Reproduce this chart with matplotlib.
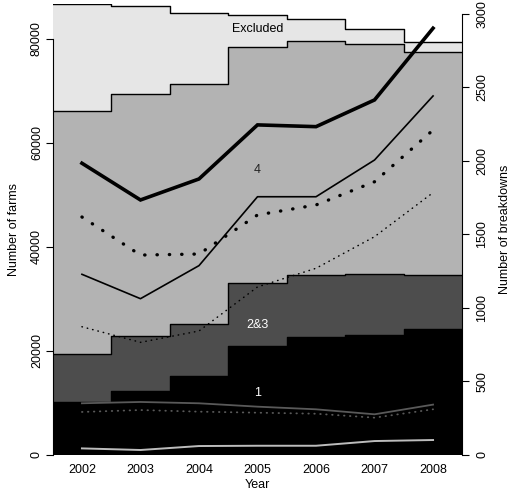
import numpy as np
import matplotlib
matplotlib.use("Agg")
import matplotlib.pyplot as plt

plt.rcParams["font.family"] = ["Liberation Sans", "DejaVu Sans"]

# ── Data ───────────────────────────────────────────────────────────────────────
years = [2002, 2003, 2004, 2005, 2006, 2007, 2008]

# cumulative number of farms (upper edge of each band)
farms_1     = [10190, 12310, 15080, 20900, 22690, 23020, 24110]
farms_23    = [19300, 22830, 25130, 32960, 34560, 34690, 34500]
farms_4     = [66150, 69370, 71230, 78460, 79615, 79040, 77500]
farms_total = [86615, 86288, 85000, 84500, 83730, 81800, 79300]

# number of breakdowns (right axis)
bd_thick     = [1984, 1734, 1877, 2245, 2233, 2415, 2903]
bd_thin      = [1228, 1062, 1287, 1756, 1756, 2006, 2442]
bd_bigdots   = [1618, 1359, 1366, 1632, 1700, 1858, 2210]
bd_smalldots = [871, 765, 842, 1142, 1269, 1484, 1784]
bd_gray      = [350, 359, 350, 327, 309, 275, 341]
bd_graydots  = [291, 304, 293, 286, 279, 252, 309]
bd_light     = [43, 32, 59, 61, 61, 93, 100]

band_labels = ["Excluded", "4", "2&3", "1"]
label_y     = [81870, 54750, 24940, 11870]

# ── Figure ─────────────────────────────────────────────────────────────────────
fig = plt.figure(figsize=(5.15, 4.92), dpi=100)
ax = fig.add_axes([0.1023, 0.0758, 0.7954, 0.9155])

edges = np.r_[np.array(years) - 0.5, years[-1] + 0.5]


def steps(vals):
    return np.r_[vals, vals[-1]]


bands = [(np.zeros(len(years)), farms_1, "black"),
         (farms_1, farms_23, "#4d4d4d"),
         (farms_23, farms_4, "#b3b3b3"),
         (farms_4, farms_total, "#e6e6e6")]
for lo, hi, col in bands:
    ax.fill_between(edges, steps(lo), steps(hi), step="post", color=col,
                    linewidth=0)
for vals in (farms_1, farms_23, farms_4, farms_total):
    ax.step(edges, steps(vals), where="post", color="black", lw=1.0)

ax.set_xlim(2001.5, 2008.5)
ax.set_ylim(0, 86615)

for txt, yv, col in zip(band_labels, label_y, ["black", "#222222", "white", "white"]):
    ax.text(2005, yv, txt, ha="center", va="center", fontsize=9, color=col)

ax.set_xticks(years)
ax.tick_params(axis="x", length=0, pad=7, labelsize=9)
ax.set_yticks([0, 20000, 40000, 60000, 80000])
ax.tick_params(axis="y", length=5, labelsize=9, pad=2)
for lab in ax.get_yticklabels():
    lab.set_rotation(90)
    lab.set_va("center")
ax.spines["left"].set_bounds(0, 80000)
for s in ("top", "right", "bottom"):
    ax.spines[s].set_visible(False)
ax.set_xlabel("Year", fontsize=9, labelpad=2)
ax.set_ylabel("Number of farms", fontsize=9, labelpad=8)

# ── Right axis: breakdowns ─────────────────────────────────────────────────────
ax2 = ax.twinx()
ax2.set_ylim(0, 450.4 / 0.1469)
ax2.plot(years, bd_thick, color="black", lw=2.6, solid_joinstyle="miter")
ax2.plot(years, bd_thin, color="black", lw=1.2)
ax2.plot(years, bd_bigdots, color="black", lw=2.4,
         linestyle=(0, (0.1, 3.6)), dash_capstyle="round")
ax2.plot(years, bd_smalldots, color="black", lw=1.1,
         linestyle=(0, (0.3, 3.3)), dash_capstyle="round")
ax2.plot(years, bd_gray, color="#595959", lw=1.3)
ax2.plot(years, bd_graydots, color="#595959", lw=1.3,
         linestyle=(0, (0.3, 3.0)), dash_capstyle="round")
ax2.plot(years, bd_light, color="#bdbdbd", lw=1.4)

ax2.set_yticks([0, 500, 1000, 1500, 2000, 2500, 3000])
ax2.tick_params(axis="y", length=5, labelsize=9, pad=5)
for lab in ax2.get_yticklabels():
    lab.set_rotation(90)
    lab.set_va("center")
ax2.spines["right"].set_bounds(0, 3000)
for s in ("top", "left", "bottom"):
    ax2.spines[s].set_visible(False)
ax2.set_ylabel("Number of breakdowns", fontsize=9, labelpad=8)

fig.savefig("out.png", dpi=100)
